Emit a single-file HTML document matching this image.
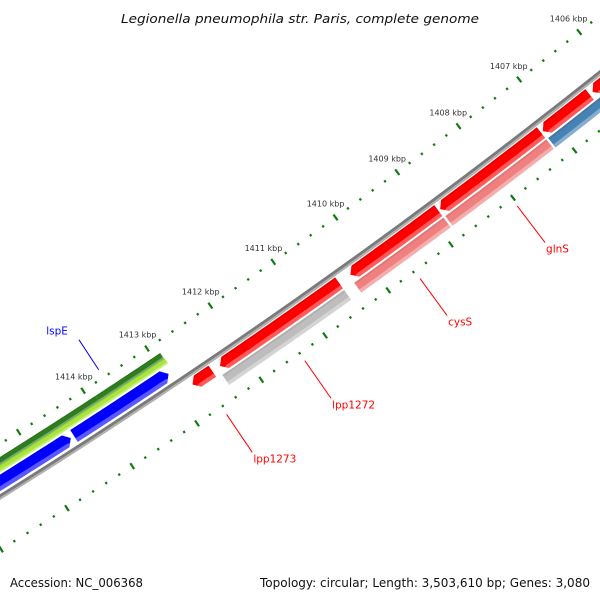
<!DOCTYPE html>
<html><head><meta charset="utf-8"><style>
html,body{margin:0;padding:0;background:#fff;width:600px;height:600px;overflow:hidden;}
svg{display:block;overflow:hidden;font-family:"DejaVu Sans","Liberation Sans",sans-serif;}
</style></head><body>
<svg id="map" width="600" height="600" viewBox="0 0 600 600" xmlns="http://www.w3.org/2000/svg">
<rect width="600" height="600" fill="#fff"/>
<g id="rulers"></g>
<g id="tracks"></g>
<g id="labels"></g>
<text x="300" y="23" text-anchor="middle" font-size="12.5" font-style="italic" fill="#111" textLength="358" lengthAdjust="spacingAndGlyphs">Legionella pneumophila str. Paris, complete genome</text>
<text x="10" y="587" font-size="12" fill="#111" textLength="133" lengthAdjust="spacingAndGlyphs">Accession: NC_006368</text>
<text x="590" y="587" text-anchor="end" font-size="12" fill="#111" textLength="330" lengthAdjust="spacingAndGlyphs">Topology: circular; Length: 3,503,610 bp; Genes: 3,080</text>
</svg>
<script>
// ---- data (kbp positions) ----
const kbpTicks = [1406,1407,1408,1409,1410,1411,1412,1413,1414];
const kbpLabels = ["1406 kbp","1407 kbp","1408 kbp","1409 kbp","1410 kbp","1411 kbp","1412 kbp","1413 kbp","1414 kbp"];
// forward strand genes (red)
const fwdStarts = [1412.46, 1410.46, 1408.87, 1407.20, 1406.40, 1404.5];
const fwdEnds   = [1412.77, 1412.34, 1410.28, 1408.84, 1407.17, 1406.35];
// second track (category colours)
const catStarts = [1410.46, 1408.87, 1407.20, 1404.5];
const catEnds   = [1412.38, 1410.30, 1408.84, 1407.17];
const catColors = ["#bdbdbd", "#f08080", "#f08080", "#4682b4"];
// reverse strand genes (blue)
const revStarts = [1412.95, 1414.47];
const revEnds   = [1414.42, 1416.5];
// green track features
const greenStarts = [1412.89, 1413.9];
const greenEnds   = [1413.9, 1416.5];
const limeStarts = [1412.88];
const limeEnds   = [1416.5];
// labelled genes
const labelNames = ["lspE","lpp1273","lpp1272","cysS","glnS"];
const labelPos   = [1413.68, 1412.62, 1411.40, 1409.58, 1408.02];
const labelSide  = [-1, 1, 1, 1, 1];
const labelColors= ["#0000ff","#ff0000","#ff0000","#ff0000","#ff0000"];

// ---- geometry ----
const CX=-3365, CY=-4901, R0=6361, TH0=56.217, DEG=0.6945, K0=1413;
function pt(k, off){
  const th=(TH0+(k-K0)*DEG)*Math.PI/180, r=R0+off;
  return [CX+r*Math.cos(th), CY+r*Math.sin(th)];
}
const NS="http://www.w3.org/2000/svg";
function mk(tag, parent, attrs){
  const e=document.createElementNS(NS,tag);
  for(const a in attrs) e.setAttribute(a,attrs[a]);
  parent.appendChild(e); return e;
}
function arcPts(k1,k2,off){ const a=[]; const n=24; for(let i=0;i<=n;i++){a.push(pt(k1+(k2-k1)*i/n,off));} return a; }
function shape(k1,k2,o1,o2,arrow){
  const ah=0.08; let a1=k1,a2=k2; if(arrow===1)a2=Math.max(k1,k2-ah); if(arrow===-1)a1=Math.min(k2,k1+ah);
  let p=arcPts(a1,a2,o1);
  if(arrow===1)p.push(pt(k2,(o1+o2)/2));
  p=p.concat(arcPts(a2,a1,o2));
  if(arrow===-1)p.push(pt(k1,(o1+o2)/2));
  return p.map(q=>q[0].toFixed(2)+","+q[1].toFixed(2)).join(" ");
}
const tracks=document.getElementById('tracks');
const rulers=document.getElementById('rulers');
const labels=document.getElementById('labels');

let bb=mk('polygon',tracks,{points:shape(1404,1417,-2.5,0.5,0),fill:'#7a7a7a'});


let bb2=mk('polygon',tracks,{points:shape(1404,1417,0.5,2.5,0),fill:'#b0b0b0'});



function gene(k1,k2,o1,o2,arrow,color,name){
  const g=mk('g',tracks,{});
  
  
  mk('polygon',g,{points:shape(k1,k2,o1,o2,arrow),fill:color});
  const s=o2-(o2-o1)*0.3;
  mk('polygon',g,{points:shape(k1,k2,s,o2,arrow),fill:'#fff','fill-opacity':0.35});
  mk('polygon',g,{points:shape(k1,k2,o1,o1+(o2-o1)*0.15,arrow),fill:'#000','fill-opacity':0.08});
}
for(let i=0;i<fwdStarts.length;i++) gene(fwdStarts[i],fwdEnds[i],3.5,17,1,'#ff0000','forward-gene');
for(let i=0;i<catStarts.length;i++) gene(catStarts[i],catEnds[i],19,31,0,catColors[i],'category-feature');
for(let i=0;i<revStarts.length;i++) gene(revStarts[i],revEnds[i],-19,-5,-1,'#0000ff','reverse-gene');
for(let i=0;i<greenStarts.length;i++) gene(greenStarts[i],greenEnds[i],-34,-27,0,'#2e7d1e','green-feature');
for(let i=0;i<limeStarts.length;i++) gene(limeStarts[i],limeEnds[i],-27,-21,0,'#a8e63a','lime-feature');

for(let side of [-1,1]){
  for(let t=1404.0;t<=1417.0001;t+=0.2){
    const k=Math.round(t*10)/10;
    const major=Math.abs(k-Math.round(k))<1e-6;
    const len=major?3.5:1.2;
    const a=pt(k,side*45-len), b=pt(k,side*45+len);
    const l=mk('line',rulers,{x1:a[0],y1:a[1],x2:b[0],y2:b[1],stroke:'#117a11','stroke-width':2.2});
    
    
  }
}
for(let i=0;i<kbpTicks.length;i++){
  const p=pt(kbpTicks[i],-62);
  const t=mk('text',rulers,{x:p[0],y:p[1]+3,'text-anchor':'middle','font-size':8,fill:'#333'});
  t.textContent=kbpLabels[i];
  
  
}
for(let i=0;i<labelNames.length;i++){
  const s=labelSide[i];
  const a=pt(labelPos[i],s*54), b=pt(labelPos[i],s*(s>0?100:90));
  const l=mk('line',labels,{x1:a[0],y1:a[1],x2:b[0],y2:b[1],stroke:labelColors[i],'stroke-width':1});
  
  
  const t=mk('text',labels,{'font-size':10.5,fill:labelColors[i]});
  if(s>0){t.setAttribute('x',b[0]+1);t.setAttribute('y',b[1]+10);}
  else{t.setAttribute('x',b[0]-11);t.setAttribute('y',b[1]-5);t.setAttribute('text-anchor','end');}
  t.textContent=labelNames[i];
  
  
}
</script>
</body></html>
